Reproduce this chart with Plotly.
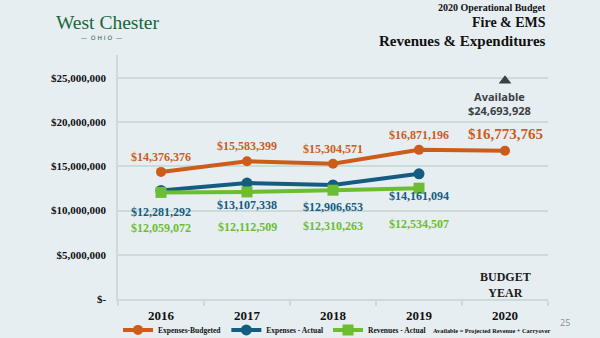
import plotly.graph_objects as go

years = ["2016", "2017", "2018", "2019", "2020"]
exp_budgeted = [14376376, 15583399, 15304571, 16871196, 16773765]
exp_actual = [12281292, 13107338, 12906653, 14161094]
rev_actual = [12059072, 12112509, 12310263, 12534507]
available_value = 24693928
available_year = "2020"
y_ticks = [0, 5000000, 10000000, 15000000, 20000000, 25000000]
y_tick_labels = ["$-", "$5,000,000", "$10,000,000", "$15,000,000", "$20,000,000", "$25,000,000"]

ORANGE = "#CD5C1A"
BLUE = "#145C82"
GREEN = "#6CBD31"
BG = "#E7EEF1"
GRID = "#CCDADA"
SERIF = "Liberation Serif"

fig = go.Figure()
fig.add_trace(go.Scatter(x=years, y=exp_budgeted, name="<b>Expenses-Budgeted</b>", mode="lines+markers",
                         line=dict(color=ORANGE, width=4), marker=dict(color=ORANGE, size=10, symbol="circle")))
fig.add_trace(go.Scatter(x=years[:len(exp_actual)], y=exp_actual, name="<b>Expenses - Actual</b>", mode="lines+markers",
                         line=dict(color=BLUE, width=4), marker=dict(color=BLUE, size=11, symbol="circle")))
fig.add_trace(go.Scatter(x=years[:len(rev_actual)], y=rev_actual, name="<b>Revenues - Actual</b>", mode="lines+markers",
                         line=dict(color=GREEN, width=4), marker=dict(color=GREEN, size=11, symbol="square")))
fig.add_trace(go.Scatter(x=[available_year], y=[available_value], mode="markers", showlegend=False,
                         marker=dict(color="#3B4045", size=11, symbol="triangle-up"), hoverinfo="skip"))

def money(v):
    return "<b>${:,}</b>".format(v)

ann = []
for i, v in enumerate(exp_budgeted):
    big = (i == len(exp_budgeted) - 1)
    ann.append(dict(xref="x", yref="y", x=i, y=v, text=money(v), showarrow=False, yshift=17 if big else 15,
                    font=dict(family=SERIF, size=15 if big else 12, color=ORANGE)))
for i, v in enumerate(exp_actual):
    ann.append(dict(xref="x", yref="y", x=i, y=v, text=money(v), showarrow=False, yshift=-22,
                    font=dict(family=SERIF, size=12, color=BLUE)))
for i, v in enumerate(rev_actual):
    ann.append(dict(xref="x", yref="y", x=i, y=v, text=money(v), showarrow=False, yshift=-35.5,
                    font=dict(family=SERIF, size=12, color=GREEN)))
ai = years.index(available_year)
ann.append(dict(xref="x", yref="y", x=ai, y=available_value,
                text="<b>Available</b><br>" + money(available_value),
                showarrow=False, yshift=-23, xshift=-6, font=dict(family="Open Sans", size=11, color="#3B4045")))
ann.append(dict(xref="x", yref="y", x=ai, y=0, text="<b>BUDGET<br>YEAR</b>", showarrow=False, yshift=14,
                font=dict(family=SERIF, size=12, color="#1A1A1A")))

# header texts
ann += [
    dict(xref="paper", yref="paper", x=1, y=1, xanchor="right", yanchor="middle", yshift=48,
         text="<b>2020 Operational Budget</b>", showarrow=False, font=dict(family=SERIF, size=10, color="#111")),
    dict(xref="paper", yref="paper", x=1, y=1, xanchor="right", yanchor="middle", yshift=33,
         text="<b>Fire &amp; EMS</b>", showarrow=False, font=dict(family=SERIF, size=14, color="#111")),
    dict(xref="paper", yref="paper", x=1, y=1, xanchor="right", yanchor="middle", yshift=14,
         text="<b>Revenues &amp; Expenditures</b>", showarrow=False, font=dict(family=SERIF, size=15, color="#111")),
    dict(xref="paper", yref="paper", x=-0.150, y=1, xanchor="left", yanchor="middle", yshift=33,
         text="West Chester", showarrow=False, font=dict(family=SERIF, size=19.5, color="#17663A")),
    dict(xref="paper", yref="paper", x=-0.038, y=1, xanchor="center", yanchor="middle", yshift=18,
         text="—  O H I O  —", showarrow=False, font=dict(family="DejaVu Sans", size=6, color="#17663A")),
    dict(xref="paper", yref="paper", x=1.023, y=0, xanchor="left", yanchor="middle", yshift=-23,
         text="25", showarrow=False, font=dict(family="Open Sans", size=9, color="#8A8F93")),
    dict(xref="paper", yref="paper", x=0.727, y=0, xanchor="left", yanchor="middle", yshift=-31,
         text="<b>Available = Projected Revenue + Carryover</b>", showarrow=False,
         font=dict(family=SERIF, size=6.3, color="#111")),
]

fig.update_layout(
    width=600, height=338,
    margin=dict(l=118, r=52, t=55, b=38.5, autoexpand=False),
    paper_bgcolor=BG, plot_bgcolor=BG,
    annotations=ann,
    showlegend=True,
    legend=dict(orientation="h", x=0.0, xanchor="left", y=0.024, yanchor="middle", yref="container",
                bgcolor="rgba(0,0,0,0)", font=dict(family=SERIF, size=7.5, color="#111"),
                itemwidth=30, tracegroupgap=0, itemclick=False),
    xaxis=dict(type="category", categoryorder="array", categoryarray=years, range=[-0.5, 4.5],
               showgrid=False, showline=True, linecolor=GRID, linewidth=1.5,
               ticks="outside", tickson="boundaries", tickcolor=GRID, ticklen=5, tickwidth=1.5,
               ticklabelstandoff=4,
               tickfont=dict(family=SERIF, size=13, color="#111"), fixedrange=True),
    yaxis=dict(range=[0, 27600000], tickvals=y_ticks, ticktext=["<b>%s</b>" % t for t in y_tick_labels],
               showgrid=True, gridcolor=GRID, gridwidth=1.5, zeroline=False,
               showline=True, linecolor=GRID, linewidth=1.5, ticks="", ticklabelstandoff=8,
               tickfont=dict(family=SERIF, size=11, color="#111"), fixedrange=True),
)
fig.update_xaxes(ticktext=["<b>%s</b>" % y for y in years], tickvals=years)
fig.write_html("out.html")
